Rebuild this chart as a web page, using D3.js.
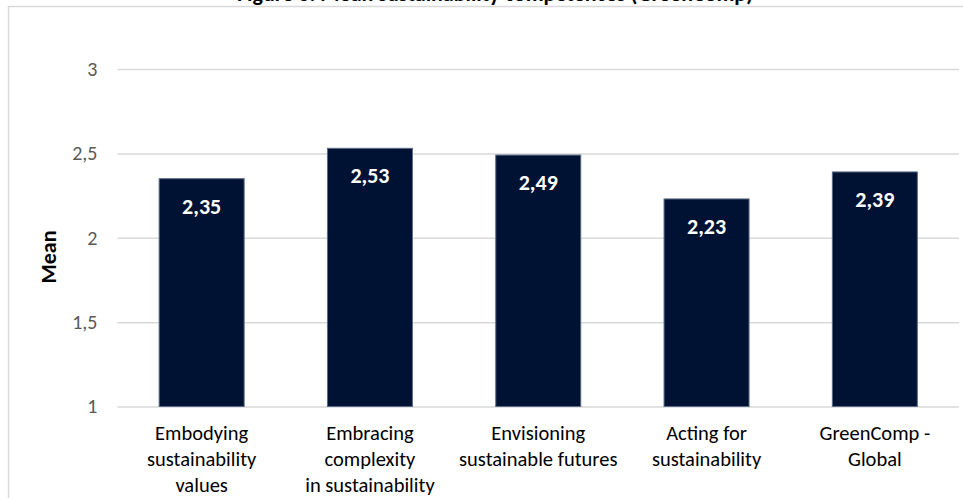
<!DOCTYPE html>
<html>
<head>
<meta charset="utf-8">
<script src="https://cdn.jsdelivr.net/npm/d3@7"></script>
<style>
  html, body { margin: 0; padding: 0; background: #fff; overflow: hidden; }
  svg { display: block; }
  text { font-family: Calibri, Carlito, Lato, "Open Sans", sans-serif; }
</style>
</head>
<body>
<svg id="chart" width="963" height="498"></svg>
<script>
// GreenComp competence areas and their mean scores
const categories = [
  ["Embodying", "sustainability", "values"],
  ["Embracing", "complexity", "in sustainability"],
  ["Envisioning", "sustainable futures"],
  ["Acting for", "sustainability"],
  ["GreenComp -", "Global"]
];
const means = [2.35, 2.53, 2.49, 2.23, 2.39];
const yTicks = [1, 1.5, 2, 2.5, 3];
const chartTitle = "Figure 3. Mean sustainability competences (GreenComp)";
const yTitle = "Mean";

const svg = d3.select("#chart");
const W = 963, H = 498;
const plot = { left: 117.5, right: 959, top: 69, bottom: 406.5 };

const fmt = v => d3.format(",")(v).replace(".", ",");

// chart area frame
svg.append("rect")
  .attr("x", 8.5).attr("y", 6.5)
  .attr("width", W + 20).attr("height", H + 20)
  .attr("fill", "#fff").attr("stroke", "#d9d9d9").attr("stroke-width", 1.5);

// title (sits at the very top edge of the frame)
svg.append("text")
  .attr("x", 495).attr("y", 1)
  .attr("text-anchor", "middle")
  .attr("font-size", 22).attr("font-weight", "bold").attr("fill", "#000")
  .text(chartTitle);

const x = d3.scaleBand()
  .domain(d3.range(categories.length))
  .range([plot.left, plot.right])
  .paddingInner(0.495).paddingOuter(0.2475);

const y = d3.scaleLinear().domain([1, 3]).range([plot.bottom, plot.top]);

// gridlines + y tick labels
const yAxis = d3.axisLeft(y).tickValues(yTicks).tickFormat(fmt)
  .tickSize(-(plot.right - plot.left)).tickPadding(20);
const gy = svg.append("g").attr("transform", `translate(${plot.left},0)`).call(yAxis);
gy.select(".domain").remove();
gy.selectAll(".tick line").attr("stroke", "#d9d9d9").attr("stroke-width", 1.5);
gy.selectAll(".tick text")
  .attr("font-size", 20).attr("fill", "#595959")
  .attr("font-family", "Calibri, Carlito, Lato, sans-serif");

// bars
svg.append("g").selectAll("rect")
  .data(means)
  .join("rect")
  .attr("x", (d, i) => x(i))
  .attr("y", d => y(d))
  .attr("width", x.bandwidth())
  .attr("height", d => y(1) - y(d))
  .attr("fill", "#001233")
  .attr("stroke", "#5b6a86").attr("stroke-width", 1);

// value labels
svg.append("g").selectAll("text")
  .data(means)
  .join("text")
  .attr("x", (d, i) => x(i) + x.bandwidth() / 2)
  .attr("y", d => y(d) + 35)
  .attr("text-anchor", "middle")
  .attr("font-size", 22).attr("font-weight", "bold").attr("fill", "#fff")
  .text(fmt);

// category labels
const xl = svg.append("g").selectAll("text")
  .data(categories)
  .join("text")
  .attr("x", (d, i) => x(i) + x.bandwidth() / 2)
  .attr("y", 440)
  .attr("text-anchor", "middle")
  .attr("font-size", 20.5).attr("fill", "#000");
xl.selectAll("tspan")
  .data(d => d)
  .join("tspan")
  .attr("x", function () { return d3.select(this.parentNode).attr("x"); })
  .attr("dy", (d, i) => i === 0 ? 0 : 26)
  .text(d => d);

// y axis title
svg.append("text")
  .attr("transform", "translate(56,257) rotate(-90)")
  .attr("text-anchor", "middle")
  .attr("font-size", 22).attr("font-weight", "bold").attr("fill", "#000")
  .text(yTitle);
</script>
</body>
</html>
